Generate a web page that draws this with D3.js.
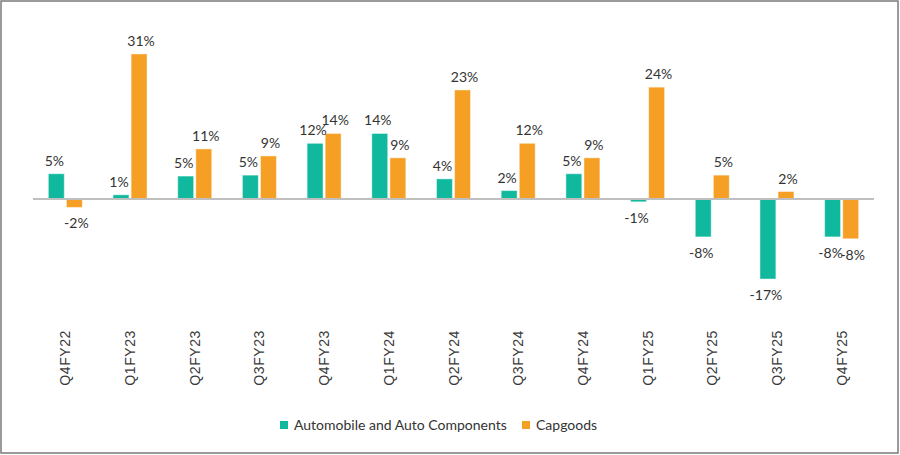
<!DOCTYPE html>
<html>
<head>
<meta charset="utf-8">
<script src="https://cdn.jsdelivr.net/npm/d3@7"></script>
<style>
  body { margin: 0; background: #fff; }
</style>
</head>
<body>
<script>
// quarters and the two series (yoy growth, %)
var quarters = ["Q4FY22", "Q1FY23", "Q2FY23", "Q3FY23", "Q4FY23", "Q1FY24", "Q2FY24",
                "Q3FY24", "Q4FY24", "Q1FY25", "Q2FY25", "Q3FY25", "Q4FY25"];
var autoVals = [5.4, 0.9, 4.9, 5.1, 11.9, 14.0, 4.3, 1.8, 5.4, -0.6, -8.1, -17.1, -8.1];
var capVals  = [-1.8, 31.0, 10.7, 9.2, 14.0, 8.8, 23.3, 11.9, 8.8, 23.9, 5.1, 1.6, -8.5];
var seriesNames = ["Automobile and Auto Components", "Capgoods"];
var colors = ["#10b99e", "#f59f25"];

var width = 900, height = 455;

var svg = d3.select("body").append("svg")
    .attr("width", width)
    .attr("height", height);

// outer frame
svg.append("rect")
    .attr("x", 1).attr("y", 1)
    .attr("width", 897).attr("height", 452)
    .attr("fill", "none")
    .attr("stroke", "#7a7a7a")
    .attr("stroke-width", 1.5);

var x0 = d3.scaleBand()
    .domain(quarters)
    .range([33, 874]);

var x1 = d3.scaleBand()
    .domain([0, 1])
    .range([0, 34])
    .paddingInner(0.12);

var y = d3.scaleLinear()
    .domain([-20, 35])
    .range([292.6, 35.2]);

var rows = quarters.map(function (q, i) {
  return { q: q, vals: [autoVals[i], capVals[i]] };
});

var groups = svg.selectAll("g.grp")
    .data(rows)
    .enter()
    .append("g")
    .attr("class", "grp")
    .attr("transform", function (d) {
      return "translate(" + (x0(d.q) + x0.bandwidth() / 2 - 17) + ",0)";
    });

groups.selectAll("rect")
    .data(function (d) { return d.vals.map(function (v, k) { return { v: v, k: k }; }); })
    .enter()
    .append("rect")
    .attr("x", function (d) { return x1(d.k); })
    .attr("width", x1.bandwidth())
    .attr("y", function (d) { return Math.min(y(d.v), y(0)); })
    .attr("height", function (d) { return Math.abs(y(d.v) - y(0)); })
    .attr("fill", function (d) { return colors[d.k]; })
    .attr("stroke", "rgba(255,255,255,0.45)")
    .attr("stroke-width", 1);

// zero line
svg.append("line")
    .attr("x1", 33).attr("x2", 874)
    .attr("y1", y(0)).attr("y2", y(0))
    .attr("stroke", "#bfbfbf")
    .attr("stroke-width", 2);

// data labels, nudged a little outward from the pair
groups.selectAll("text.lbl")
    .data(function (d) { return d.vals.map(function (v, k) { return { v: v, k: k }; }); })
    .enter()
    .append("text")
    .attr("class", "lbl")
    .attr("x", function (d) { return x1(d.k) + x1.bandwidth() / 2 + (d.k === 0 ? -2 : 2); })
    .attr("y", function (d) { return d.v >= 0 ? y(d.v) - 8 : y(d.v) + 21; })
    .attr("text-anchor", "middle")
    .style("font-family", "Lato, 'Open Sans', sans-serif")
    .style("font-size", "14px")
    .style("fill", "#333")
    .text(function (d) { return Math.round(d.v) + "%"; });

// rotated category labels
svg.selectAll("text.tick")
    .data(quarters)
    .enter()
    .append("text")
    .attr("class", "tick")
    .attr("transform", function (d) {
      return "translate(" + (x0(d) + x0.bandwidth() / 2 + 5) + ",330) rotate(-90)";
    })
    .attr("text-anchor", "end")
    .style("font-family", "'Liberation Sans', Arial, sans-serif")
    .style("font-size", "14px")
    .style("letter-spacing", "0.6px")
    .style("fill", "#3a3a3a")
    .text(function (d) { return d; });

// legend
var legendX = [280, 522];
var legend = svg.selectAll("g.leg")
    .data(seriesNames)
    .enter()
    .append("g")
    .attr("class", "leg")
    .attr("transform", function (d, i) { return "translate(" + legendX[i] + ",421)"; });

legend.append("rect")
    .attr("width", 8).attr("height", 8)
    .attr("fill", function (d, i) { return colors[i]; });

legend.append("text")
    .attr("x", 14)
    .attr("y", 9)
    .style("font-family", "Lato, 'Open Sans', sans-serif")
    .style("font-size", "14px")
    .style("fill", "#333")
    .text(function (d) { return d; });
</script>
</body>
</html>
